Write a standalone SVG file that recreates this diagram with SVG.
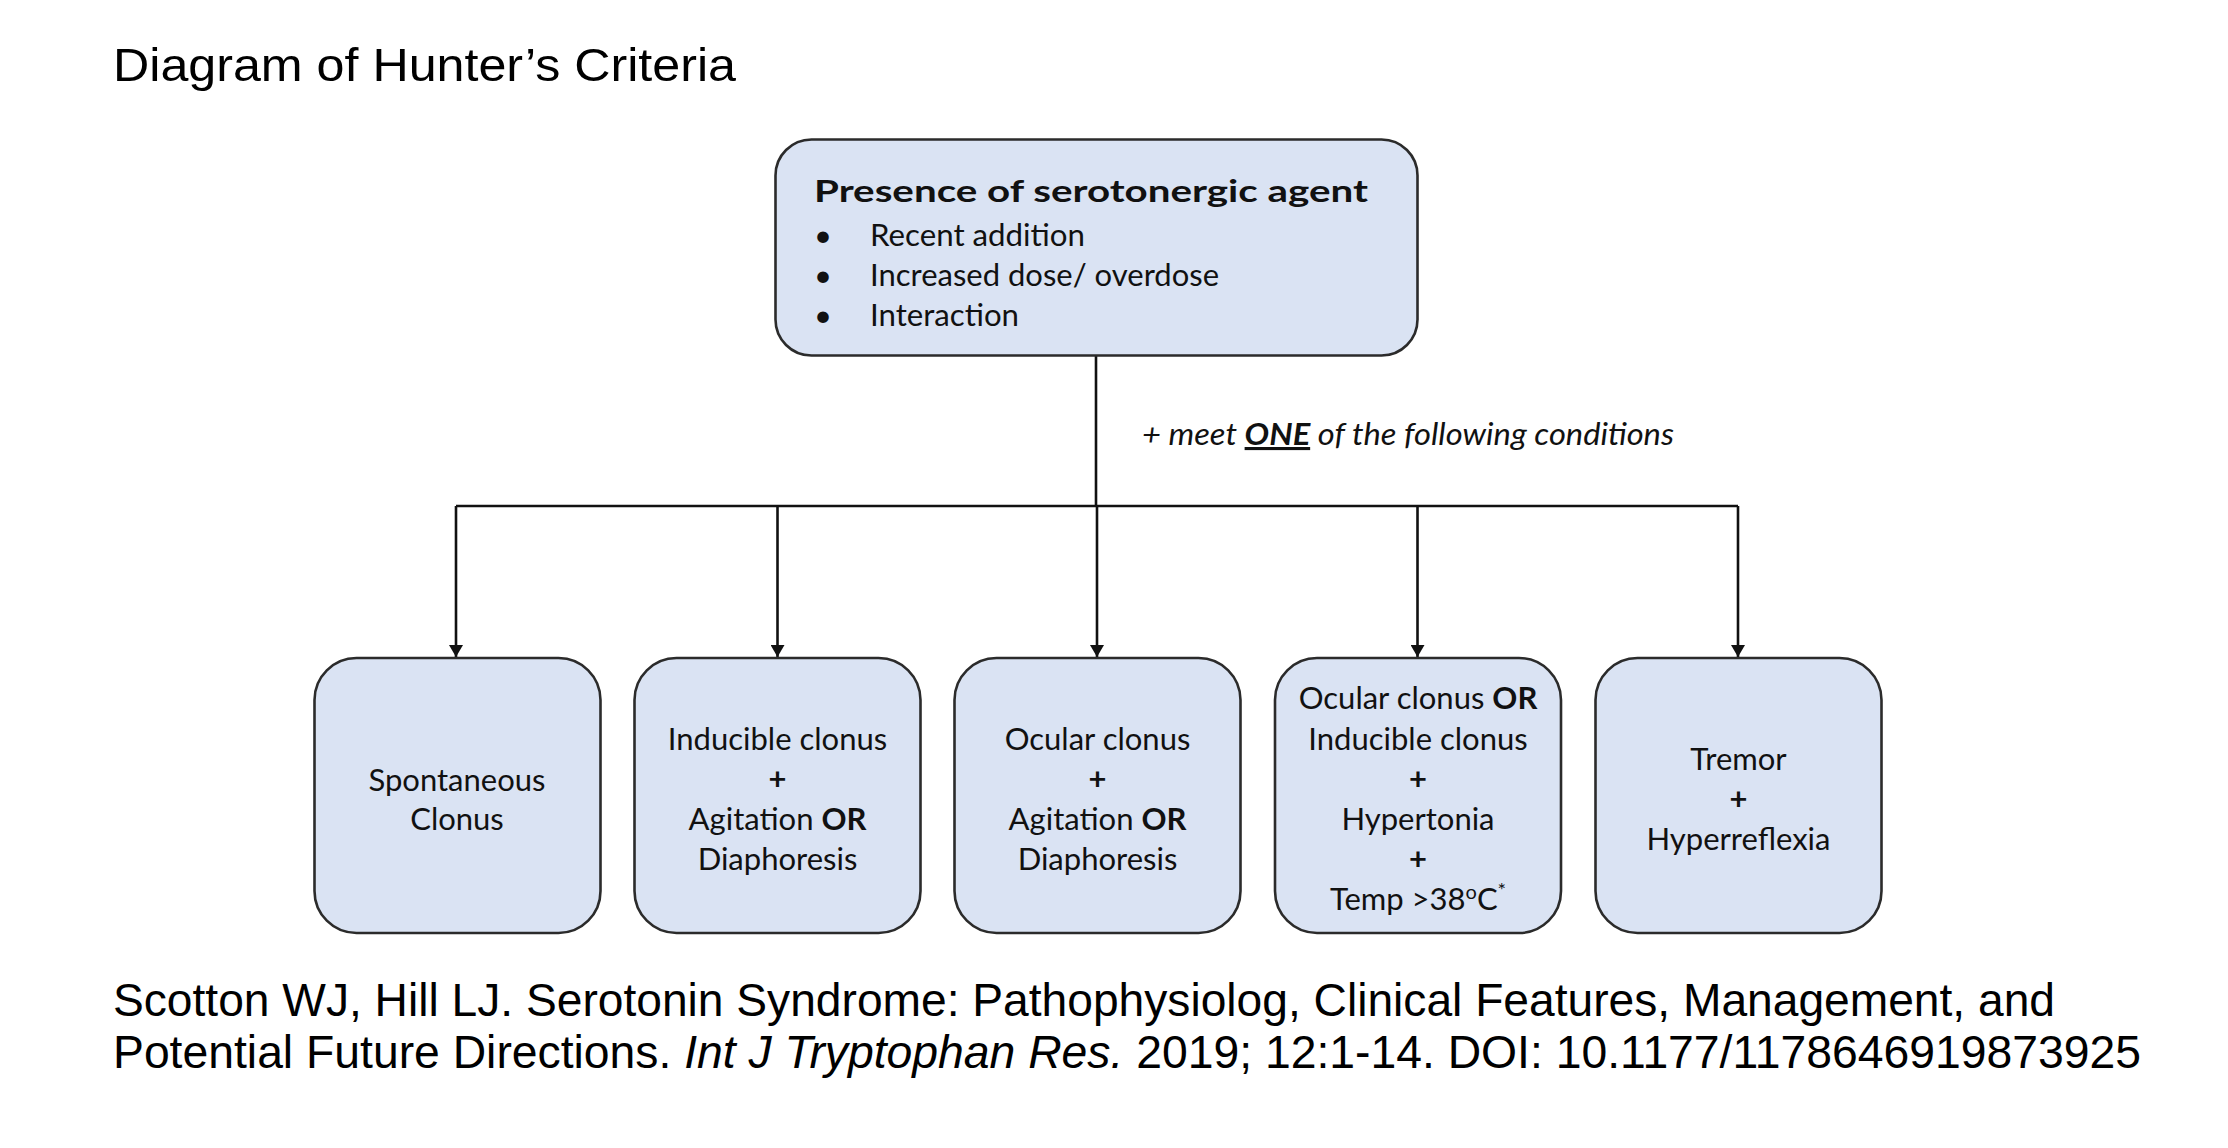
<svg xmlns="http://www.w3.org/2000/svg" width="2228" height="1148" viewBox="0 0 2228 1148">
<defs>
<style>
.box{fill:#dae3f3;stroke:#2b2b2b;stroke-width:2.6}
.con{fill:none;stroke:#111;stroke-width:2.6}
.t{font-family:Lato,"Open Sans",sans-serif;font-size:31px;fill:#111;text-anchor:middle}
.tl{font-family:Lato,"Open Sans",sans-serif;font-size:31px;fill:#111}
.h{font-family:"Liberation Sans",Arial,sans-serif;font-size:47px;fill:#000}
.b{font-weight:bold}
</style>
<marker id="arr" viewBox="0 0 12 14" refX="12" refY="7" markerWidth="12" markerHeight="14" markerUnits="userSpaceOnUse" orient="auto">
<path d="M0,0 L12,7 L0,14 Z" fill="#111"/>
</marker>
</defs>
<rect width="2228" height="1148" fill="#fff"/>
<text class="h" x="113" y="80.5" textLength="623" lengthAdjust="spacingAndGlyphs">Diagram of Hunter’s Criteria</text>

<g id="connectors">
<path class="con" d="M1096,355 V506"/>
<path class="con" d="M456,506 H1738"/>
<path class="con" d="M456,506 V657" marker-end="url(#arr)"/>
<path class="con" d="M777.5,506 V657" marker-end="url(#arr)"/>
<path class="con" d="M1097,506 V657" marker-end="url(#arr)"/>
<path class="con" d="M1417.5,506 V657" marker-end="url(#arr)"/>
<path class="con" d="M1738,506 V657" marker-end="url(#arr)"/>
<text class="tl" x="1142" y="445" font-style="italic" textLength="532" lengthAdjust="spacingAndGlyphs">+ meet <tspan class="b" text-decoration="underline">ONE</tspan> of the following conditions</text>
</g>

<g id="n0">
<rect class="box" x="775.5" y="139.5" width="642" height="216" rx="36"/>
<text class="tl b" x="814" y="202" font-size="39" textLength="554" lengthAdjust="spacingAndGlyphs">Presence of serotonergic agent</text>
<text class="tl" x="814" y="246">•</text>
<text class="tl" x="870" y="246" textLength="215" lengthAdjust="spacingAndGlyphs">Recent addition</text>
<text class="tl" x="814" y="286">•</text>
<text class="tl" x="870" y="286" textLength="349" lengthAdjust="spacingAndGlyphs">Increased dose/ overdose</text>
<text class="tl" x="814" y="325.5">•</text>
<text class="tl" x="870" y="325.5" textLength="149" lengthAdjust="spacingAndGlyphs">Interaction</text>
</g>

<g id="n1">
<rect class="box" x="314.5" y="658" width="286" height="275" rx="42"/>
<text class="t" x="457" y="790.5">Spontaneous</text>
<text class="t" x="457" y="830">Clonus</text>
</g>

<g id="n2">
<rect class="box" x="634.5" y="658" width="286" height="275" rx="42"/>
<text class="t" x="777.5" y="749.5">Inducible clonus</text>
<text class="t b" x="777.5" y="789.5">+</text>
<text class="t" x="777.5" y="830">Agitation <tspan class="b">OR</tspan></text>
<text class="t" x="777.5" y="870">Diaphoresis</text>
</g>

<g id="n3">
<rect class="box" x="954.5" y="658" width="286" height="275" rx="42"/>
<text class="t" x="1097.5" y="749.5">Ocular clonus</text>
<text class="t b" x="1097.5" y="789.5">+</text>
<text class="t" x="1097.5" y="830">Agitation <tspan class="b">OR</tspan></text>
<text class="t" x="1097.5" y="870">Diaphoresis</text>
</g>

<g id="n4">
<rect class="box" x="1275" y="658" width="286" height="275" rx="42"/>
<text class="t" x="1418" y="709">Ocular clonus <tspan class="b">OR</tspan></text>
<text class="t" x="1418" y="749.5">Inducible clonus</text>
<text class="t b" x="1418" y="789.5">+</text>
<text class="t" x="1418" y="830">Hypertonia</text>
<text class="t b" x="1418" y="870">+</text>
<text class="t" x="1418" y="910">Temp &gt;38<tspan font-size="20" dy="-11">o</tspan><tspan dy="11">C</tspan><tspan font-size="20" dy="-13">*</tspan></text>
</g>

<g id="n5">
<rect class="box" x="1595.5" y="658" width="286" height="275" rx="42"/>
<text class="t" x="1738.5" y="769.5">Tremor</text>
<text class="t b" x="1738.5" y="809.5">+</text>
<text class="t" x="1738.5" y="850">Hyperreflexia</text>
</g>

<text class="h" x="113" y="1015.5" textLength="1942" lengthAdjust="spacingAndGlyphs">Scotton WJ, Hill LJ. Serotonin Syndrome: Pathophysiolog, Clinical Features, Management, and</text>
<text class="h" x="113" y="1068" textLength="2028" lengthAdjust="spacingAndGlyphs">Potential Future Directions. <tspan font-style="italic">Int J Tryptophan Res.</tspan> 2019; 12:1-14. DOI: 10.1177/1178646919873925</text>
</svg>
